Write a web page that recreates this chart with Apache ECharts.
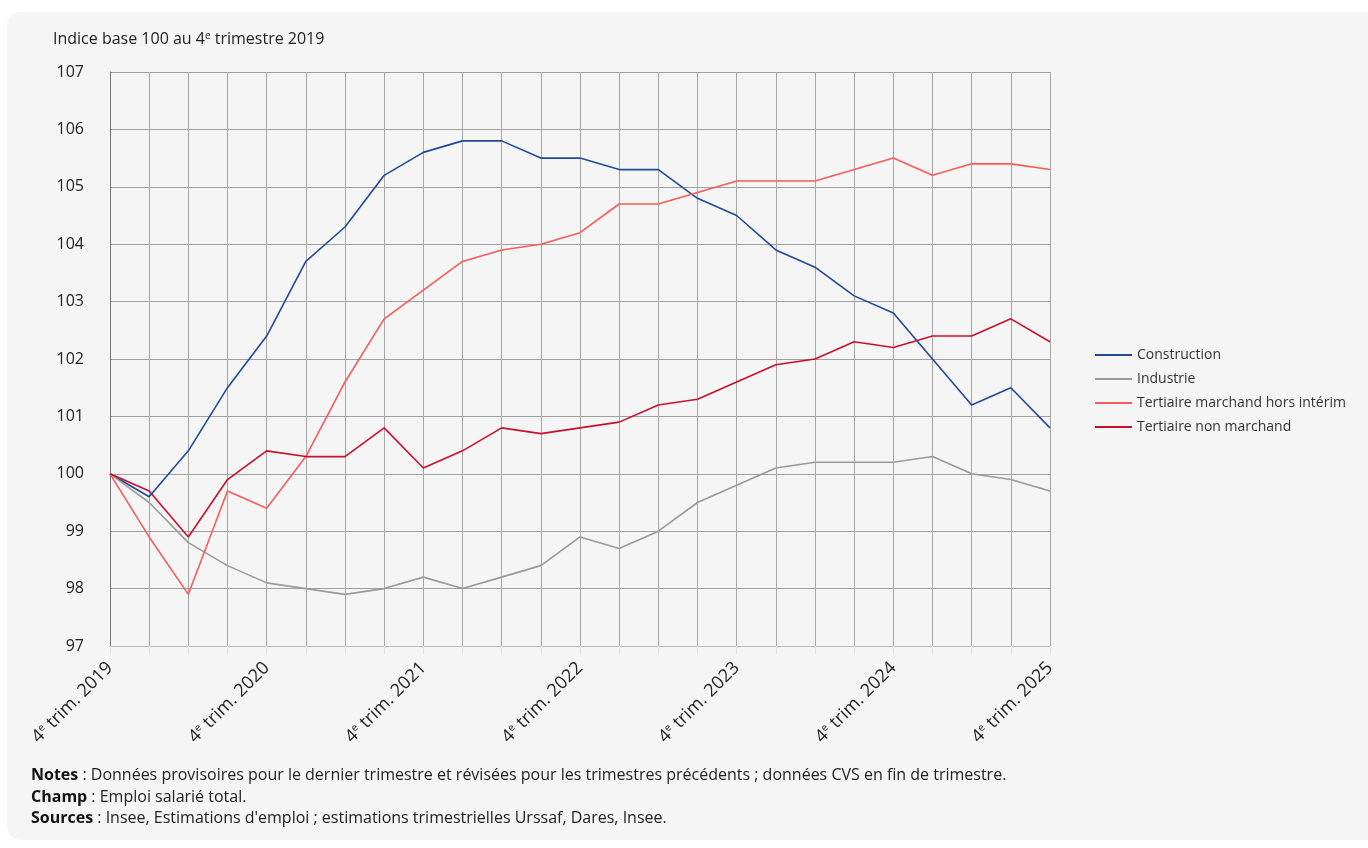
<!DOCTYPE html>
<html><head><meta charset="utf-8">
<script src="https://cdn.jsdelivr.net/npm/echarts@6/dist/echarts.min.js"></script>
<style>
html,body{margin:0;padding:0;background:#fff;width:1368px;height:848px;overflow:hidden;}
#card{position:absolute;left:7px;top:12px;width:1400px;height:828px;background:#f5f5f5;border-radius:14px;}
#chart{position:absolute;left:0;top:0;width:1368px;height:848px;}
</style></head>
<body><div id="card"></div><div id="chart"></div>
<script>
const categories = [];
for (let y = 2019; y <= 2025; y++) {
  const qs = (y === 2019) ? [4] : [1,2,3,4];
  qs.forEach(q => categories.push(q + 'T' + y));
}
const construction = [100,99.6,100.4,101.5,102.4,103.7,104.3,105.2,105.6,105.8,105.8,105.5,105.5,105.3,105.3,104.8,104.5,103.9,103.6,103.1,102.8,102.0,101.2,101.5,100.8];
const industrie = [100,99.5,98.8,98.4,98.1,98.0,97.9,98.0,98.2,98.0,98.2,98.4,98.9,98.7,99.0,99.5,99.8,100.1,100.2,100.2,100.2,100.3,100.0,99.9,99.7];
const tertMarchand = [100,98.9,97.9,99.7,99.4,100.3,101.6,102.7,103.2,103.7,103.9,104.0,104.2,104.7,104.7,104.9,105.1,105.1,105.1,105.3,105.5,105.2,105.4,105.4,105.3];
const tertNonMarchand = [100,99.7,98.9,99.9,100.4,100.3,100.3,100.8,100.1,100.4,100.8,100.7,100.8,100.9,101.2,101.3,101.6,101.9,102.0,102.3,102.2,102.4,102.4,102.7,102.3];
const seriesNames = ['Construction','Industrie','Tertiaire marchand hors intérim','Tertiaire non marchand'];
const colors = ['#1f4b9b','#9a9a9a','#f75b5b','#c8102e'];

const chart = echarts.init(document.getElementById('chart'), null, {renderer:'canvas'});
const F = '"Open Sans", "Noto Sans", sans-serif';
const mk = (name, data, i) => ({
  name, type:'line', data, symbol:'none', smooth:false,
  lineStyle:{color:colors[i], width:1.6}, itemStyle:{color:colors[i]}
});
const noteStyle = (txt, top) => ({type:'text', left:31, top, style:{
  text:txt, fontSize:16, fontFamily:F, fill:'#222',
  rich:{b:{fontWeight:'bold', fontSize:16, fill:'#111', fontFamily:F}}}});
chart.setOption({
  backgroundColor:'transparent',
  animation:false,
  textStyle:{fontFamily:F},
  grid:{left:110, right:318, top:72, bottom:202, containLabel:false},
  legend:{
    orient:'vertical', left:1090, top:343, itemWidth:37, itemHeight:2, itemGap:10,
    icon:'rect',
    textStyle:{fontFamily:F, fontSize:14, color:'#333'},
    data:seriesNames
  },
  xAxis:{
    type:'category', data:categories, boundaryGap:false,
    axisLine:{show:true, lineStyle:{color:'#bbbbbb', width:1}},
    axisTick:{show:true, interval:0, length:8, lineStyle:{color:'#e2e2e2'}},
    splitLine:{show:true, interval:0, lineStyle:{color:'#a8a8a8', width:1}},
    axisLabel:{
      interval:3, rotate:45, margin:19, color:'#222', fontSize:18, fontFamily:F,
      formatter:(v)=>'4{s|e} trim. ' + v.slice(2),
      rich:{s:{fontSize:10, verticalAlign:'top', color:'#222', fontFamily:F, padding:[0,0,8,0]}}
    }
  },
  yAxis:{
    type:'value', min:97, max:107, interval:1,
    axisLine:{show:true, lineStyle:{color:'#777', width:1}},
    axisTick:{show:false},
    splitLine:{show:true, lineStyle:{color:'#a0a0a0', width:1}},
    axisLabel:{color:'#222', fontSize:16, margin:26, fontFamily:F}
  },
  graphic:[
    {type:'text', left:53, top:31, style:{
      text:'Indice base 100 au 4{s|e} trimestre 2019', fontSize:16, fontFamily:F, fill:'#222',
      rich:{s:{fontSize:10, verticalAlign:'top', padding:[0,0,7,0], fill:'#222', fontFamily:F}}}},
    noteStyle('{b|Notes} : Données provisoires pour le dernier trimestre et révisées pour les trimestres précédents ; données CVS en fin de trimestre.', 767),
    noteStyle('{b|Champ} : Emploi salarié total.', 789),
    noteStyle('{b|Sources} : Insee, Estimations d\'emploi ; estimations trimestrielles Urssaf, Dares, Insee.', 810)
  ],
  series:[
    mk(seriesNames[0], construction, 0),
    mk(seriesNames[1], industrie, 1),
    mk(seriesNames[2], tertMarchand, 2),
    mk(seriesNames[3], tertNonMarchand, 3)
  ]
});
</script></body></html>
